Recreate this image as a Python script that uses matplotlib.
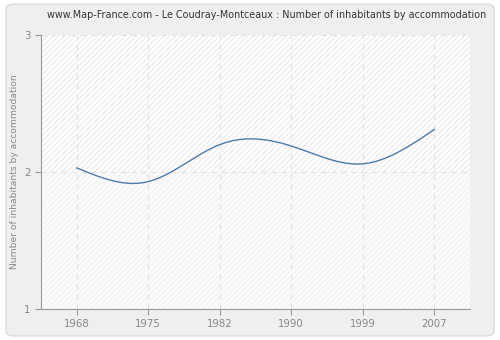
import numpy as np
import matplotlib
matplotlib.use("Agg")
import matplotlib.pyplot as plt
from matplotlib.patches import FancyBboxPatch, Rectangle

years = ["1968", "1975", "1982", "1990", "1999", "2007"]
values = [2.03, 1.93, 2.20, 2.19, 2.06, 2.31]
y_ticks = [1, 2, 3]

def natural_spline(x, y, xs):
    x = np.asarray(x, float); y = np.asarray(y, float)
    n = len(x)
    h = np.diff(x)
    A = np.zeros((n, n)); b = np.zeros(n)
    A[0, 0] = 1; A[-1, -1] = 1
    for i in range(1, n - 1):
        A[i, i - 1] = h[i - 1]
        A[i, i] = 2 * (h[i - 1] + h[i])
        A[i, i + 1] = h[i]
        b[i] = 3 * ((y[i + 1] - y[i]) / h[i] - (y[i] - y[i - 1]) / h[i - 1])
    c = np.linalg.solve(A, b)
    out = np.empty_like(xs)
    for k, xv in enumerate(xs):
        i = min(max(np.searchsorted(x, xv) - 1, 0), n - 2)
        dx = xv - x[i]
        bi = (y[i + 1] - y[i]) / h[i] - h[i] * (2 * c[i] + c[i + 1]) / 3
        di = (c[i + 1] - c[i]) / (3 * h[i])
        out[k] = y[i] + bi * dx + c[i] * dx ** 2 + di * dx ** 3
    return out

fig = plt.figure(figsize=(5, 3.4), dpi=100)
fig.patch.set_facecolor("white")
bg = FancyBboxPatch((0.012, 0.012), 0.976, 0.976, boxstyle="round,pad=0,rounding_size=0.015",
                    transform=fig.transFigure, facecolor="#efefef", edgecolor="#dddddd",
                    linewidth=1, zorder=-10)
fig.patches.append(bg)

ax = fig.add_axes([0.082, 0.091, 0.858, 0.806])
ax.set_facecolor("#ffffff")
x = np.arange(len(years))
ax.set_xlim(-0.5, len(years) - 0.5)
ax.set_ylim(1, 3)

# hatch background
ax.add_patch(Rectangle((-0.5, 2), 6, 1, facecolor="#ffffff", edgecolor="#eeeeee",
                       hatch="//////", linewidth=0, zorder=0))
ax.add_patch(Rectangle((-0.5, 1), 6, 1, facecolor="#fbfbfb", edgecolor="#f3f3f3",
                       hatch="//////", linewidth=0, zorder=0))

ax.grid(True, color="#e2e2e2", linestyle=(0, (4, 4)), linewidth=0.9)
ax.set_axisbelow(True)

xs = np.linspace(0, len(years) - 1, 400)
ax.plot(xs, natural_spline(x, values, xs), color="#4f7aab", linewidth=1.0, zorder=5)

ax.set_xticks(x)
ax.set_xticklabels(years)
ax.set_yticks(y_ticks)
ax.set_yticklabels([str(t) for t in y_ticks])
for s in ["top", "right"]:
    ax.spines[s].set_visible(False)
for s in ["left", "bottom"]:
    ax.spines[s].set_color("#999999")
ax.tick_params(colors="#999999", labelcolor="#888888", labelsize=7.3, length=4)
ax.set_ylabel("Number of inhabitants by accommodation", color="#888888", fontsize=6.6)
fig.text(0.534, 0.955, "www.Map-France.com - Le Coudray-Montceaux : Number of inhabitants by accommodation",
         ha="center", va="center", fontsize=6.9, color="#333333")

fig.savefig("out.png", dpi=100, facecolor=fig.get_facecolor())
